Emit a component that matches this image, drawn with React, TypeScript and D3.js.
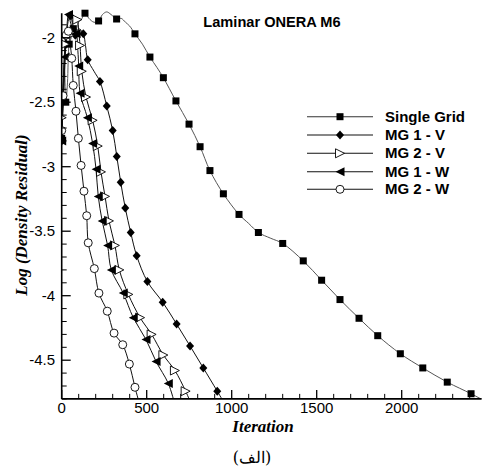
import React from "react";
import * as d3 from "d3";

const W = 483;
const H = 466;

// [iteration, log residual, marker flag]
const singleGrid: [number, number, number][] = [
  [0, -2.78, 1], [8, -2.45, 1], [16, -2.2, 0], [24, -2.5, 1], [34, -2.35, 0], [44, -2.05, 1],
  [56, -2.0, 0], [68, -1.93, 1], [82, -1.95, 0], [98, -1.88, 0], [115, -1.86, 0], [137, -1.81, 1],
  [160, -1.85, 0], [190, -1.88, 0], [217, -1.87, 1], [240, -1.82, 0], [265, -1.8, 0], [290, -1.82, 0],
  [323, -1.855, 1], [350, -1.85, 0], [375, -1.88, 0], [400, -1.91, 0], [431, -1.97, 1], [475, -2.05, 0],
  [519, -2.15, 1], [560, -2.23, 0], [598, -2.31, 1], [672, -2.49, 1], [749, -2.67, 1], [814, -2.845, 1],
  [872, -3.03, 1], [951, -3.21, 1], [1043, -3.37, 1], [1100, -3.44, 0], [1157, -3.51, 1], [1230, -3.555, 0],
  [1300, -3.595, 1], [1421, -3.73, 1], [1529, -3.88, 1], [1637, -4.03, 1], [1749, -4.175, 1], [1859, -4.31, 1],
  [1992, -4.45, 1], [2124, -4.56, 1], [2268, -4.67, 1], [2408, -4.76, 1], [2480, -4.81, 0],
];

const mg1V: [number, number, number][] = [
  [0, -2.8, 1], [12, -2.4, 0], [25, -2.05, 1], [40, -1.86, 0], [50, -1.83, 1], [65, -1.9, 0],
  [80, -1.98, 1], [100, -1.93, 0], [127, -1.97, 1], [140, -2.06, 0], [153, -2.17, 1], [190, -2.26, 0],
  [225, -2.34, 1], [265, -2.53, 1], [300, -2.72, 1], [324, -2.92, 1], [347, -3.12, 1], [374, -3.32, 1],
  [406, -3.51, 1], [441, -3.69, 1], [504, -3.89, 1], [594, -4.05, 1], [676, -4.22, 1], [755, -4.39, 1],
  [833, -4.56, 1], [915, -4.74, 1], [960, -4.84, 0],
];

const mg2V: [number, number, number][] = [
  [0, -2.62, 1], [10, -2.3, 0], [20, -2.05, 1], [32, -1.92, 0], [45, -1.98, 1], [60, -1.9, 0],
  [75, -1.84, 0], [92, -1.86, 1], [100, -1.95, 0], [108, -2.06, 1], [118, -2.26, 1], [143, -2.46, 1],
  [182, -2.64, 1], [212, -2.84, 1], [231, -3.04, 1], [255, -3.23, 1], [278, -3.42, 1], [313, -3.61, 1],
  [339, -3.8, 1], [392, -3.99, 1], [461, -4.17, 1], [529, -4.3, 1], [598, -4.46, 1], [666, -4.58, 1],
  [729, -4.74, 1], [765, -4.85, 0],
];

const mg1W: [number, number, number][] = [
  [0, -2.8, 1], [10, -2.45, 0], [20, -2.15, 1], [30, -1.92, 0], [40, -1.82, 1], [55, -1.9, 0],
  [70, -1.95, 0], [85, -1.97, 1], [95, -2.1, 0], [100, -2.22, 1], [108, -2.43, 1], [151, -2.62, 1],
  [182, -2.82, 1], [202, -3.02, 1], [215, -3.23, 1], [238, -3.42, 1], [270, -3.61, 1], [292, -3.8, 1],
  [362, -3.98, 1], [421, -4.17, 1], [496, -4.34, 1], [555, -4.51, 1], [627, -4.68, 1], [665, -4.84, 0],
];

const mg2W: [number, number, number][] = [
  [0, -2.72, 1], [8, -2.45, 1], [16, -2.15, 0], [26, -1.98, 1], [39, -1.95, 1], [50, -2.05, 0],
  [59, -2.16, 1], [68, -2.37, 1], [84, -2.57, 1], [98, -2.78, 1], [114, -2.99, 1], [131, -3.19, 1],
  [147, -3.38, 1], [156, -3.59, 1], [192, -3.79, 1], [219, -3.98, 1], [268, -4.12, 1], [308, -4.29, 1],
  [359, -4.38, 1], [398, -4.53, 1], [431, -4.71, 1], [460, -4.85, 0],
];

const seriesNames = ["Single Grid", "MG 1 - V", "MG 2 - V", "MG 1 - W", "MG 2 - W"];
const seriesData = [singleGrid, mg1V, mg2V, mg1W, mg2W];
const seriesMarkers = ["square", "diamond", "triR", "triL", "circle"];

const xMajor = [0, 500, 1000, 1500, 2000];
const yMajor = [-4.5, -4, -3.5, -3, -2.5, -2];

const title = "Laminar ONERA M6";
const xTitle = "Iteration";
const yTitle = "Log (Density Residual)";
const caption = "(الف)";

const x = d3.scaleLinear().domain([0, 2470]).range([61.7, 481.6]);
const y = d3.scaleLinear().domain([-4.8, -1.81]).range([398.9, 13.2]);

function Marker({ type, cx, cy }: { type: string; cx: number; cy: number }) {
  const sw = 0.9;
  if (type === "square") return <rect x={cx - 3.5} y={cy - 3.5} width={7} height={7} fill="#000" />;
  if (type === "diamond")
    return <path d={`M${cx},${cy - 4.5}L${cx + 4},${cy}L${cx},${cy + 4.5}L${cx - 4},${cy}Z`} fill="#000" />;
  if (type === "triR")
    return (
      <path d={`M${cx - 4.5},${cy - 4.5}L${cx + 4.5},${cy}L${cx - 4.5},${cy + 4.5}Z`} fill="#fff" stroke="#000" strokeWidth={sw} />
    );
  if (type === "triL")
    return <path d={`M${cx + 4.5},${cy - 4.5}L${cx - 4.5},${cy}L${cx + 4.5},${cy + 4.5}Z`} fill="#000" />;
  return <circle cx={cx} cy={cy} r={4} fill="#fff" stroke="#000" strokeWidth={sw} />;
}

export default function App() {
  const line = d3
    .line<[number, number, number]>()
    .x((d) => x(d[0]))
    .y((d) => y(d[1]))
    .curve(d3.curveCatmullRom.alpha(0.5));

  const xMinor = d3.range(0, 2401, 100).filter((v) => v % 500 !== 0);
  const yMinor = d3.range(-48, -18, 1).map((v) => v / 10).filter((v) => Math.abs(v * 2 - Math.round(v * 2)) > 1e-6);

  const [x0, x1] = x.range();
  const [yb, yt] = y.range();
  const legendRows = [116.7, 135, 153.3, 171.7, 189.3];

  return (
    <svg width={W} height={H} style={{ position: "absolute", left: 0, top: 0, background: "#fff" }}>
      <defs>
        <clipPath id="plot">
          <rect x={x0} y={yt - 6} width={x1 - x0 + 2} height={yb - yt + 6} />
        </clipPath>
      </defs>
      <rect width={W} height={H} fill="#fff" />
      <g clipPath="url(#plot)">
        {seriesData.map((data, i) => (
          <path key={"l" + i} d={line(data) || ""} fill="none" stroke={i === 0 ? "#555" : "#111"} strokeWidth={1} />
        ))}
        {seriesData.map((data, i) =>
          data
            .filter((d) => d[2] === 1)
            .map((d, j) => <Marker key={`m${i}-${j}`} type={seriesMarkers[i]} cx={x(d[0])} cy={y(d[1])} />)
        )}
      </g>
      {/* axes */}
      <line x1={x0} x2={x0} y1={yt} y2={yb} stroke="#000" strokeWidth={1.6} />
      <line x1={x0} x2={x1} y1={yb} y2={yb} stroke="#000" strokeWidth={1.6} />
      {xMajor.map((v) => (
        <g key={"xm" + v}>
          <line x1={x(v)} x2={x(v)} y1={yb} y2={yb - 9} stroke="#000" strokeWidth={1.3} />
          <text x={x(v)} y={413} textAnchor="middle" fontFamily="Liberation Sans, Arial, sans-serif" fontSize={15}>
            {v}
          </text>
        </g>
      ))}
      {xMinor.map((v) => (
        <line key={"xn" + v} x1={x(v)} x2={x(v)} y1={yb} y2={yb - 5} stroke="#000" strokeWidth={1} />
      ))}
      {yMajor.map((v) => (
        <g key={"ym" + v}>
          <line x1={x0} x2={x0 + 9} y1={y(v)} y2={y(v)} stroke="#000" strokeWidth={1.3} />
          <text x={55} y={y(v) + 5} textAnchor="end" fontFamily="Liberation Sans, Arial, sans-serif" fontSize={15}>
            {v}
          </text>
        </g>
      ))}
      {yMinor.map((v) => (
        <line key={"yn" + v} x1={x0} x2={x0 + 5} y1={y(v)} y2={y(v)} stroke="#000" strokeWidth={1} />
      ))}
      {/* title */}
      <text x={272} y={27} textAnchor="middle" fontFamily="Liberation Sans, Arial, sans-serif" fontWeight="bold" fontSize={14.6}>
        {title}
      </text>
      {/* legend */}
      {seriesNames.map((name, i) => (
        <g key={"lg" + i}>
          <line x1={307} x2={373} y1={legendRows[i]} y2={legendRows[i]} stroke={i === 0 ? "#333" : "#111"} strokeWidth={1.1} />
          <Marker type={seriesMarkers[i]} cx={340} cy={legendRows[i]} />
          <text x={385} y={legendRows[i] + 5} fontFamily="Liberation Sans, Arial, sans-serif" fontWeight="bold" fontSize={15}>
            {name}
          </text>
        </g>
      ))}
      {/* axis titles */}
      <text
        x={263}
        y={432}
        textAnchor="middle"
        fontFamily="Liberation Serif, Times New Roman, serif"
        fontWeight="bold"
        fontStyle="italic"
        fontSize={17}
      >
        {xTitle}
      </text>
      <text
        transform={`translate(27,215) rotate(-90)`}
        textAnchor="middle"
        fontFamily="Liberation Serif, Times New Roman, serif"
        fontWeight="bold"
        fontStyle="italic"
        fontSize={17}
      >
        {yTitle}
      </text>
      <text x={252} y={463} textAnchor="middle" fontFamily="DejaVu Serif, Liberation Serif, serif" fontSize={16}>
        {caption}
      </text>
    </svg>
  );
}
